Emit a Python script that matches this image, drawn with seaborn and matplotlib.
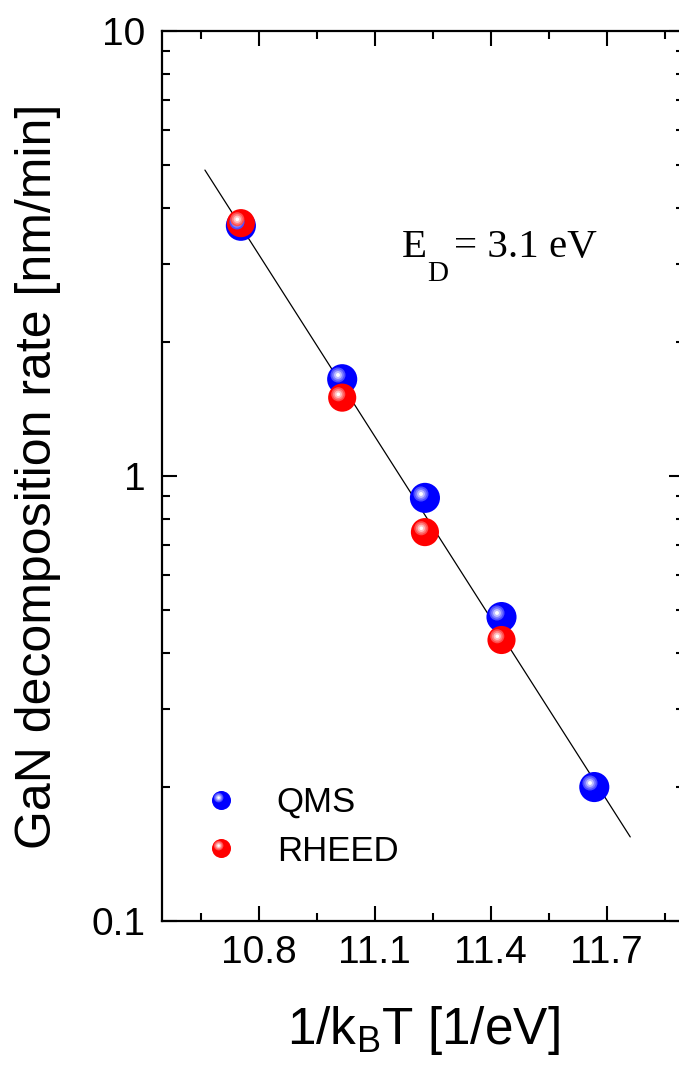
import pandas as pd
import matplotlib
matplotlib.use("Agg")
import matplotlib.pyplot as plt
import seaborn as sns
from matplotlib.markers import MarkerStyle
from matplotlib.transforms import Affine2D
from matplotlib.ticker import FixedLocator, LogLocator, NullFormatter
from matplotlib.lines import Line2D

# values
qms_x = [10.754, 11.016, 11.230, 11.428, 11.668]
qms_rate = [3.65, 1.65, 0.893, 0.482, 0.200]
rheed_x = [10.754, 11.016, 11.230, 11.428]
rheed_rate = [3.70, 1.50, 0.748, 0.428]
fit_x = [10.661, 11.761]
fit_rate = [4.87, 0.1545]
x_ticks = [10.8, 11.1, 11.4, 11.7]
x_minor = [10.65, 10.95, 11.25, 11.55, 11.85]
y_ticks = [0.1, 1, 10]
y_tick_labels = ["0.1", "1", "10"]
series = ["QMS", "RHEED"]
colors = {"QMS": "#0000ff", "RHEED": "#ff0000"}
sizes = {"QMS": 470, "RHEED": 410}

df = pd.concat([
    pd.DataFrame({"x": qms_x, "rate": qms_rate, "source": "QMS"}),
    pd.DataFrame({"x": rheed_x, "rate": rheed_rate, "source": "RHEED"}),
], ignore_index=True)

sns.set_style("ticks")
plt.rcParams["font.family"] = ["Liberation Sans", "DejaVu Sans"]
plt.rcParams["mathtext.fontset"] = "custom"
plt.rcParams["mathtext.sf"] = "Liberation Sans"
for k in ["text.color", "axes.labelcolor", "axes.edgecolor", "xtick.color", "ytick.color"]:
    plt.rcParams[k] = "black"

fig = plt.figure(figsize=(6.79, 10.79), dpi=100)
ax = fig.add_axes([162 / 679, 1 - 921 / 1079, (684 - 162) / 679, (921 - 31) / 1079])

sns.lineplot(x=fit_x, y=fit_rate, color="black", lw=0.9, ax=ax, zorder=2)
sns.scatterplot(data=df, x="x", y="rate", hue="source", palette=colors,
                size="source", sizes=sizes, linewidth=0, legend=False,
                ax=ax, zorder=3)


# shiny highlight layers, shifted up-left
def shine(scale, dx=-0.15, dy=0.15):
    return MarkerStyle("o", transform=Affine2D().scale(scale).translate(dx, dy))


def tint(c, f):
    r, g, b = matplotlib.colors.to_rgb(c)
    return (r + (1 - r) * f, g + (1 - g) * f, b + (1 - b) * f)


layers = [(0.50, 0.30), (0.38, 0.50), (0.26, 0.75), (0.13, 1.0)]
for name in series:
    sub = df[df.source == name]
    for sc, f in layers:
        ax.scatter(sub.x, sub.rate, s=sizes[name], marker=shine(sc),
                   color=tint(colors[name], f), linewidth=0, zorder=4)

ax.set_yscale("log")
ax.set_xlim(10.55, 11.9)
ax.set_ylim(0.1, 10)
ax.xaxis.set_major_locator(FixedLocator(x_ticks))
ax.xaxis.set_minor_locator(FixedLocator(x_minor))
ax.set_xticks(x_ticks, [f"{v:.1f}" for v in x_ticks])
ax.yaxis.set_minor_locator(LogLocator(base=10, subs=range(2, 10)))
ax.yaxis.set_minor_formatter(NullFormatter())
ax.set_yticks(y_ticks, y_tick_labels)

for s in ax.spines.values():
    s.set_linewidth(1.6)
    s.set_color("black")
    s.set_visible(True)
ax.tick_params(which="both", direction="in", top=True, right=True,
               width=1.5, labelsize=28, colors="black")
ax.tick_params(which="major", length=10.5)
ax.tick_params(which="minor", length=5.8)
ax.tick_params(axis="y", pad=12)
ax.tick_params(axis="x", pad=10)

ax.set_xlabel(r"1/k$_\mathsf{B}$T [1/eV]", fontsize=37, labelpad=24)
ax.set_ylabel("GaN decomposition rate [nm/min]", fontsize=36, labelpad=22)

# E_D annotation, Times-like serif
serif = "Liberation Serif"
ax.text(11.17, 3.1, "E", family=serif, fontsize=29.5, va="baseline")
ax.annotate("D", xy=(11.17, 3.1), xytext=(18.2, -17), textcoords="offset points",
            family=serif, fontsize=21, va="baseline")
ax.annotate("= 3.1 eV", xy=(11.17, 3.1), xytext=(37.4, 0), textcoords="offset points",
            family=serif, fontsize=29.5, va="baseline")

handles = []
for name in series:
    h = [Line2D([], [], ls="", marker="o", markersize=13.7,
                markerfacecolor=colors[name], markeredgewidth=0)]
    for sc, f in layers:
        h.append(Line2D([], [], ls="", marker=shine(sc), markersize=13.7,
                        markerfacecolor=tint(colors[name], f), markeredgewidth=0))
    handles.append(tuple(h))
ax.legend(handles, series, loc="lower left", bbox_to_anchor=(0.08, 0.06),
          frameon=False, fontsize=25, handlelength=1.0, handletextpad=1.1,
          labelspacing=0.45, borderpad=0, borderaxespad=0)

fig.savefig("out.png", dpi=100)
